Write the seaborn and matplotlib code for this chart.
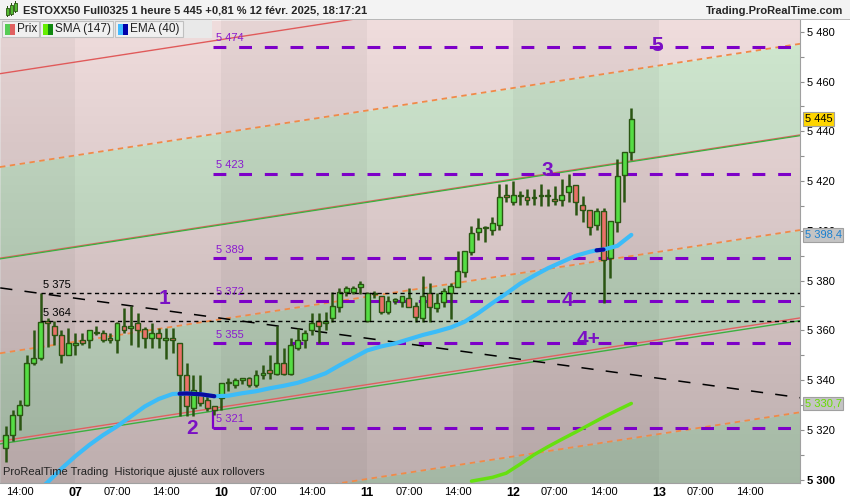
import numpy as np
import matplotlib
matplotlib.use("Agg")
import matplotlib.pyplot as plt
import seaborn as sns
from matplotlib.patches import Rectangle

# hourly candles, bar 0 = Thu 6 Feb 12:00, 21 bars per session
bars = list(range(91))
opens = [5313.0, 5318.0, 5326.0, 5330.0, 5347.0, 5349.0, 5364.0, 5362.0, 5358.0, 5350.0,
         5354.0, 5356.0, 5356.0, 5359.0, 5359.0, 5357.0, 5356.0, 5362.0, 5361.0, 5363.0,
         5360.5, 5357.0, 5359.0, 5356.0, 5357.0, 5355.0, 5342.0, 5329.0, 5334.0, 5332.0,
         5329.5, 5333.0, 5339.0, 5338.0, 5340.0, 5341.0, 5338.0, 5342.0, 5344.0, 5342.5,
         5347.0, 5342.5, 5353.0, 5356.0, 5360.0, 5364.0, 5363.0, 5365.0, 5369.5, 5375.5,
         5375.5, 5377.5, 5364.0, 5374.5, 5374.0, 5367.5, 5372.0, 5371.5, 5373.0, 5370.0,
         5365.0, 5375.0, 5369.0, 5371.5, 5375.0, 5377.5, 5383.5, 5391.5, 5399.5, 5401.0,
         5400.5, 5402.5, 5414.5, 5411.5, 5414.0, 5413.5, 5413.2, 5414.0, 5414.0, 5413.0,
         5412.5, 5415.5, 5418.5, 5410.5, 5408.5, 5402.5, 5408.0, 5389.0, 5403.5, 5422.5,
         5431.5]
highs = [5321.5, 5328.0, 5332.0, 5350.0, 5360.0, 5375.0, 5365.0, 5364.0, 5360.0, 5361.0,
         5359.0, 5359.0, 5360.0, 5362.0, 5360.0, 5359.0, 5363.5, 5369.0, 5370.0, 5367.0,
         5361.5, 5363.0, 5361.0, 5361.0, 5361.0, 5355.0, 5347.0, 5342.0, 5342.0, 5335.0,
         5329.5, 5339.0, 5341.0, 5341.0, 5341.0, 5341.5, 5344.0, 5346.0, 5350.0, 5362.0,
         5353.0, 5357.0, 5361.0, 5360.0, 5367.0, 5367.0, 5367.5, 5375.5, 5377.0, 5378.0,
         5378.0, 5380.0, 5375.5, 5376.0, 5374.0, 5374.0, 5373.0, 5374.0, 5377.0, 5371.5,
         5382.0, 5379.0, 5375.0, 5377.0, 5379.0, 5392.0, 5392.0, 5402.0, 5405.0, 5402.0,
         5405.5, 5419.0, 5419.0, 5420.0, 5416.0, 5417.0, 5417.0, 5419.0, 5417.0, 5418.0,
         5421.0, 5423.0, 5418.5, 5414.0, 5408.5, 5409.0, 5409.0, 5404.0, 5429.0, 5431.5,
         5449.5]
lows = [5307.0, 5315.5, 5320.0, 5329.5, 5346.0, 5348.0, 5353.5, 5354.0, 5347.0, 5350.0,
        5350.0, 5354.0, 5353.0, 5358.0, 5355.5, 5355.0, 5351.0, 5359.0, 5354.0, 5353.5,
        5353.0, 5353.0, 5353.0, 5348.5, 5351.0, 5325.5, 5325.5, 5325.5, 5329.5, 5327.5,
        5326.0, 5328.0, 5335.5, 5337.0, 5338.5, 5337.5, 5337.5, 5340.5, 5340.5, 5342.0,
        5342.0, 5342.0, 5352.0, 5353.0, 5358.0, 5355.0, 5360.0, 5363.5, 5367.5, 5374.0,
        5374.5, 5374.5, 5363.5, 5373.0, 5366.5, 5366.5, 5370.5, 5369.5, 5369.5, 5363.5,
        5363.5, 5363.5, 5367.5, 5369.5, 5364.5, 5377.5, 5381.5, 5390.5, 5396.5, 5395.5,
        5398.5, 5400.5, 5411.5, 5410.5, 5410.5, 5410.5, 5410.5, 5410.0, 5410.0, 5410.5,
        5410.0, 5411.5, 5406.5, 5403.5, 5398.5, 5400.5, 5371.0, 5381.0, 5399.5, 5411.5,
        5428.5]
closes = [5318.0, 5326.0, 5330.0, 5347.0, 5349.0, 5363.5, 5363.0, 5358.0, 5350.0, 5355.0,
          5355.0, 5355.0, 5360.0, 5359.3, 5356.0, 5356.0, 5363.0, 5360.0, 5362.0, 5360.0,
          5357.0, 5359.0, 5357.0, 5357.0, 5356.0, 5342.0, 5329.5, 5336.0, 5331.0, 5329.0,
          5328.0, 5339.0, 5339.5, 5340.0, 5341.0, 5338.0, 5342.0, 5343.0, 5343.0, 5347.0,
          5342.5, 5354.0, 5356.0, 5359.0, 5363.0, 5362.0, 5364.0, 5370.0, 5375.5, 5377.0,
          5377.0, 5378.5, 5375.0, 5375.0, 5367.5, 5372.0, 5372.3, 5374.0, 5369.5, 5365.5,
          5374.0, 5369.5, 5371.0, 5376.0, 5378.0, 5384.0, 5392.0, 5399.0, 5401.0, 5401.3,
          5403.0, 5413.5, 5413.5, 5414.5, 5414.3, 5412.5, 5413.4, 5414.2, 5414.2, 5412.0,
          5414.5, 5418.0, 5411.5, 5408.5, 5401.5, 5408.0, 5388.5, 5404.0, 5422.0, 5431.5,
          5445.0]

# EMA(40) and SMA(147)
ema_bars = [4, 6, 8, 10, 12, 14, 16, 18, 20, 22, 24, 25, 26, 28, 30, 32, 34, 36, 38, 40,
            42, 44, 46, 48, 50, 52, 54, 56, 58, 60, 62, 64, 66, 68, 70, 72, 74, 76, 78, 80,
            82, 84, 85, 86, 88, 90]
ema_vals = [5294.0, 5299.0, 5304.5, 5309.5, 5314.0, 5318.0, 5321.5, 5325.5, 5329.5, 5332.5,
            5334.5, 5334.6, 5334.7, 5334.4, 5333.6, 5333.8, 5334.8, 5335.6, 5336.8, 5337.8,
            5339.0, 5340.8, 5342.8, 5346.0, 5349.0, 5352.0, 5353.6, 5354.8, 5356.5, 5358.2,
            5359.6, 5361.2, 5363.5, 5367.0, 5371.0, 5374.8, 5378.8, 5382.0, 5385.0, 5387.5,
            5390.0, 5391.6, 5392.2, 5392.5, 5394.0, 5398.4]
sma_bars = [67, 70, 72, 74, 76, 78, 80, 82, 84, 86, 88, 90]
sma_vals = [5299.5, 5301.0, 5302.7, 5306.3, 5310.1, 5313.3, 5316.3, 5319.2, 5322.2, 5325.2,
            5328.0, 5330.7]

# regression channel: price at bar 0 and slope per bar
chan_base = [5463.5, 5426.0, 5389.1, 5351.2, 5315.9, 5278.0]
chan_slope = 0.43
trend_bars = [-0.8, 114.3]
trend_prices = [5377.1, 5333.0]

levels = [5474, 5423, 5389, 5372, 5355, 5321]
swing_levels = [5375, 5364]
wave_labels = ["1", "2", "3", "4", "4+", "5"]
wave_bars = [22.9, 26.8, 77.9, 80.8, 83.9, 93.7]
wave_prices = [5372.9, 5320.8, 5424.4, 5372.2, 5356.2, 5474.3]

day_starts = [10, 31, 52, 73, 94]
day_names = ["07", "10", "11", "12", "13"]
hour_ticks = [2, 16, 23, 37, 44, 58, 65, 79, 86, 100, 107]
hour_names = ["14:00", "07:00", "14:00", "07:00", "14:00", "07:00", "14:00",
              "07:00", "14:00", "07:00", "14:00"]


def fmt(v, dec=0):
    s = f"{v:,.{dec}f}".replace(",", " ")
    return s.replace(".", ",")


sns.set_theme(style="white")
plt.rcParams["font.family"] = ["Liberation Sans", "DejaVu Sans"]

fig = plt.figure(figsize=(8.5, 5), dpi=100)
fig.patch.set_facecolor("white")
ax = fig.add_axes([0, 17 / 500, 800 / 850, 463 / 500])
x0, x1 = -0.835, 114.27
y0, y1 = 5298.75, 5484.7

# background bands
xs = np.array([x0, x1])
lines = [b + chan_slope * xs for b in chan_base]
pink, green = "#efdcdc", "#d0e8d0"
ax.fill_between(xs, lines[0], y1, color=pink, lw=0, zorder=0)
band_cols = [pink, green, pink, green, pink]
for i, c in enumerate(band_cols):
    ax.fill_between(xs, lines[i + 1], lines[i], color=c, lw=0, zorder=0)
ax.fill_between(xs, y0, lines[5], color=green, lw=0, zorder=0)

grad = np.zeros((200, 1, 4))
grad[..., 3] = np.linspace(0.0, 0.21, 200)[:, None]
ax.imshow(grad, extent=[x0, x1, y0, y1], aspect="auto", origin="upper", zorder=0.5)

bounds = [x0] + day_starts + [x1]
for i in range(0, len(bounds) - 1, 2):
    ax.axvspan(bounds[i], bounds[i + 1], color="black", alpha=0.04, lw=0, zorder=0.6)

# channel lines
orange = "#f08a48"
ax.plot(xs, lines[0], color="#e05a5a", lw=1, zorder=1)
for i in (1, 3, 5):
    ax.plot(xs, lines[i], color=orange, lw=1.3, dashes=(3, 2.5), zorder=1)
ax.plot(xs, lines[2] + 0.3, color="#e06060", lw=1, zorder=1)
ax.plot(xs, lines[2], color="#3cb040", lw=0.9, zorder=1)
ax.plot(xs, lines[4], color="#e06060", lw=1, zorder=1)
ax.plot(xs, lines[4] - 1.1, color="#3cb040", lw=1, zorder=1)

ax.plot(trend_bars, trend_prices, color="black", lw=1.1, dashes=(8, 8), zorder=2)

# levels
purple = "#7d00c8"
for lv in levels:
    ax.plot([29.8, x1], [lv, lv], color=purple, lw=2.2, dashes=(4.2, 4.2),
            dash_capstyle="butt", zorder=2)
    ax.text(30.2, lv + 1.3, fmt(lv), color="#8a1ad0", fontsize=8, va="bottom", zorder=6)
ax.plot([29.8, 29.8], [5321, 5329], color=purple, lw=1.6, zorder=2)
for lv in swing_levels:
    ax.plot([5, x1], [lv, lv], color="black", lw=1, dashes=(3, 2.5), zorder=4.5)
    ax.text(5.3, lv + 1.2, fmt(lv), color="black", fontsize=8, va="bottom", zorder=6)

# candles
o, h, l, c = map(np.array, (opens, highs, lows, closes))
ax.vlines(bars, l, h, color="#2a5512", lw=1.8, zorder=3)
body_col = np.where(c >= o, "#55dd44", "#ea7068")
body_h = np.maximum(np.abs(c - o), 0.45)
ax.bar(bars, body_h, bottom=np.minimum(o, c), width=0.7, color=body_col,
       edgecolor="#2a5512", linewidth=1, zorder=4)

# moving averages
sns.lineplot(x=ema_bars, y=ema_vals, ax=ax, color="#3cbcf8", lw=3, zorder=5)
dark = [(b, v) for b, v in zip(ema_bars, ema_vals) if 25 <= b <= 30]
sns.lineplot(x=[d[0] for d in dark], y=[d[1] for d in dark], ax=ax, color="#0a0aa0", lw=3, zorder=5)
dark = [(b, v) for b, v in zip(ema_bars, ema_vals) if 85 <= b <= 86]
sns.lineplot(x=[d[0] for d in dark], y=[d[1] for d in dark], ax=ax, color="#0a0aa0", lw=3, zorder=5)
sns.lineplot(x=sma_bars, y=sma_vals, ax=ax, color="#66e010", lw=2.5, zorder=5)

for t, b, p in zip(wave_labels, wave_bars, wave_prices):
    ax.text(b, p, t, color="#7a10c4", fontsize=15, fontweight="bold", ha="center",
            va="center", zorder=6)

ax.text(0.004, 0.018, "ProRealTime Trading  Historique ajusté aux rollovers",
        transform=ax.transAxes, fontsize=8, color="#222222", zorder=6)

ax.set_xlim(x0, x1)
ax.set_ylim(y0, y1)

# axes
ax.yaxis.tick_right()
yt = list(range(5300, 5481, 20))
ax.set_yticks(yt)
ax.set_yticklabels([fmt(v) for v in yt])
ax.set_yticks(list(range(5310, 5481, 20)), minor=True)
ax.tick_params(axis="y", which="both", right=True, length=3, width=0.8, color="#909090",
               labelsize=8, pad=2, labelcolor="black")
for tl in ax.get_yticklabels():
    if tl.get_text() in ("5 300", "5 400"):
        tl.set_fontweight("bold")
xt = sorted(day_starts + hour_ticks)
names = dict(zip(day_starts, day_names))
names.update(zip(hour_ticks, hour_names))
ax.set_xticks(xt)
ax.set_xticklabels([names[t] for t in xt])
ax.tick_params(axis="x", length=0, pad=3, labelsize=8, labelcolor="black")
for tl in ax.get_xticklabels():
    if tl.get_text() in day_names:
        tl.set_fontweight("bold")
        tl.set_fontsize(9)
ax.grid(False)
for s in ("left", "top"):
    ax.spines[s].set_visible(False)
for s in ("right", "bottom"):
    ax.spines[s].set_color("#a0a0a0")
    ax.spines[s].set_linewidth(0.8)

# price tags
tr = ax.get_yaxis_transform()
ax.text(1.006, 5445, "5 445", transform=tr, fontsize=8, va="center", color="black",
        bbox=dict(boxstyle="square,pad=0.15", fc="#ffd500", ec="#a0a0a0", lw=0.8), zorder=10)
ax.text(1.006, 5398.4, "5 398,4", transform=tr, fontsize=8, va="center", color="#1a80d0",
        bbox=dict(boxstyle="square,pad=0.15", fc="#c4c4c4", ec="#a0a0a0", lw=0.8), zorder=10)
ax.text(1.006, 5330.7, "5 330,7", transform=tr, fontsize=8, va="center", color="#66dd00",
        bbox=dict(boxstyle="square,pad=0.15", fc="#c4c4c4", ec="#a0a0a0", lw=0.8), zorder=10)


# header and legend strip (figure pixels)
def px_rect(x, y, w, h, **kw):
    fig.patches.append(Rectangle((x / 850, 1 - (y + h) / 500), w / 850, h / 500,
                                 transform=fig.transFigure, **kw))


px_rect(0, 0, 850, 20, fc="#f3f3f3", ec="none")
px_rect(0, 19, 850, 1, fc="#b8b8b8", ec="none")
for cx, cy, ch, col in [(6, 8, 7, "#55bb33"), (10, 5, 9, "#55bb33"), (14, 3, 8, "#55bb33")]:
    px_rect(cx + 1, cy - 2, 0.8, ch + 4, fc="#2a5512", ec="none")
    px_rect(cx, cy, 3, ch, fc=col, ec="#2a5512", lw=0.6)
fig.text(23 / 850, 1 - 10.5 / 500, "ESTOXX50 Full0325 1 heure 5 445 +0,81 % 12 févr. 2025, 18:17:21",
         fontsize=8, fontweight="bold", va="center", ha="left")
fig.text(843 / 850, 1 - 10.5 / 500, "Trading.ProRealTime.com", fontsize=8,
         fontweight="bold", va="center", ha="right")

px_rect(0, 20, 212, 18, fc="#e9e9e9", ec="none", zorder=5)
legend = [(2, 37, "Prix", "#55cc55", "#e06060"),
          (40, 73, "SMA (147)", "#66ee00", "#108810"),
          (115, 68, "EMA (40)", "#44bbff", "#0000aa")]
for lx, lw_, txt, c1, c2 in legend:
    px_rect(lx, 21, lw_, 16, fc="#f0f0f0", ec="#c0c0c0", lw=0.8, zorder=6)
    px_rect(lx + 3, 24, 5, 11, fc=c1, ec="none", zorder=7)
    px_rect(lx + 8, 24, 5, 11, fc=c2, ec="none", zorder=7)
    fig.text((lx + 15) / 850, 1 - 29.5 / 500, txt, fontsize=8.5, va="center", ha="left",
             color="#222222", zorder=8)

fig.savefig("out.png", dpi=100)
